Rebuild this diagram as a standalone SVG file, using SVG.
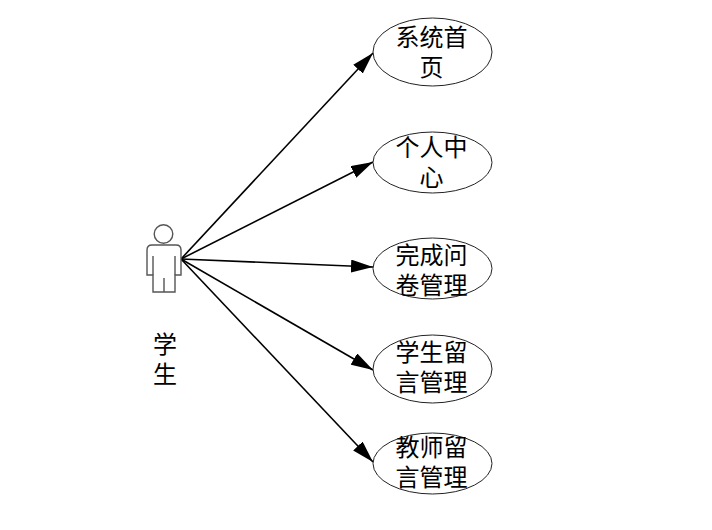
<svg xmlns="http://www.w3.org/2000/svg" width="712" height="530" viewBox="0 0 712 530">
<style>
.uc ellipse{fill:#fff;stroke:#222;stroke-width:1}
.t{font-family:"Noto Sans CJK SC","Noto Sans",sans-serif;font-size:24px;fill:#000;text-anchor:middle}
.conn line{stroke:#000;stroke-width:1.6}
.actor path,.actor circle{fill:#fff;stroke:#555;stroke-width:1.4}
</style>
<defs>
<marker id="ah" markerUnits="userSpaceOnUse" markerWidth="22" markerHeight="13" refX="22" refY="6.5" orient="auto">
<path d="M0,0 L22,6.5 L0,13 z" fill="#000"/>
</marker>
</defs>
<rect width="712" height="530" fill="#fff"/>
<g class="conn">
<line x1="181" y1="259" x2="373" y2="53" marker-end="url(#ah)"/>
<line x1="181" y1="259" x2="373" y2="162" marker-end="url(#ah)"/>
<line x1="181" y1="259" x2="373" y2="267" marker-end="url(#ah)"/>
<line x1="181" y1="259" x2="373" y2="370" marker-end="url(#ah)"/>
<line x1="181" y1="259" x2="373" y2="462" marker-end="url(#ah)"/>
</g>
<g id="actor" class="actor">
<circle cx="163.5" cy="234" r="9.3"/>
<path d="M152,245 L176,245 Q181,245 181,250 L181,275 L175,275 L175,292 L153,292 L153,275 L147,275 L147,250 Q147,245 152,245 Z"/>
<path d="M153,256 L153,275 M175,256 L175,275 M164,278 L164,292" fill="none"/>
<text class="t" x="165" y="353">学<tspan x="165" y="383">生</tspan></text>
</g>
<g id="uc1" class="uc">
<ellipse cx="432.5" cy="52" rx="59.5" ry="34"/>
<text class="t" x="431.5" y="46">系统首<tspan x="431.5" y="76">页</tspan></text>
</g>
<g id="uc2" class="uc">
<ellipse cx="432.5" cy="162.5" rx="59.5" ry="30.5"/>
<text class="t" x="431.5" y="156">个人中<tspan x="431.5" y="186">心</tspan></text>
</g>
<g id="uc3" class="uc">
<ellipse cx="432.5" cy="268.5" rx="59.5" ry="30.5"/>
<text class="t" x="431.5" y="264">完成问<tspan x="431.5" y="294">卷管理</tspan></text>
</g>
<g id="uc4" class="uc">
<ellipse cx="432.5" cy="369" rx="59.5" ry="34"/>
<text class="t" x="431.5" y="361">学生留<tspan x="431.5" y="391">言管理</tspan></text>
</g>
<g id="uc5" class="uc">
<ellipse cx="432.5" cy="463.5" rx="59.5" ry="30.5"/>
<text class="t" x="431.5" y="456">教师留<tspan x="431.5" y="486">言管理</tspan></text>
</g>
</svg>
